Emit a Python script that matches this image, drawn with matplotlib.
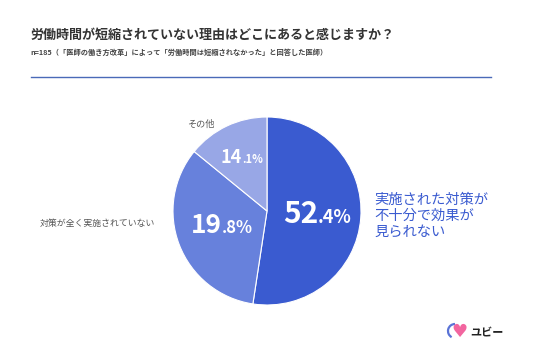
import matplotlib.pyplot as plt
from matplotlib.patches import Arc

plt.rcParams['font.family'] = ['Noto Sans CJK JP', 'DejaVu Sans']

categories = ['実施された対策が\n不十分で効果が\n見られない', '対策が全く実施されていない', 'その他']
# wedge sizes as drawn in the picture (the printed labels do not sum to 100)
shares = [52.4, 33.5, 14.1]
label_big = ['52', '19', '14']
label_small = ['.4%', '.8%', '.1%']
colors = ['#3a5bd0', '#6781dc', '#98a7e6']

W, H = 536, 357
fig = plt.figure(figsize=(W / 100, H / 100), dpi=100)
fig.patch.set_facecolor('white')


def fx(x):
    return x / W


def fy(y):
    return 1 - y / H


cx, cy, r = 267, 211, 94
ax = fig.add_axes([fx(cx - r), fy(cy + r), 2 * r / W, 2 * r / H])
ax.pie(shares, colors=colors, startangle=90, counterclock=False,
       wedgeprops=dict(edgecolor='white', linewidth=0.8))
ax.set_xlim(-1, 1)
ax.set_ylim(-1, 1)
ax.axis('off')


def d(x, y):
    return (x - cx) / r, (cy - y) / r


# percentage labels: big integer part + small decimal part
pos = [(318, 223, 21.5, 13), (222, 233, 19, 12), (242, 163, 13, 8)]
for (x, y, big, small), b, s in zip(pos, label_big, label_small):
    ax.text(*d(x, y), b, ha='right', va='baseline', color='white',
            fontsize=big, fontweight='bold')
    ax.text(*d(x, y), s, ha='left', va='baseline', color='white',
            fontsize=small, fontweight='bold')

# category labels
fig.text(fx(374), fy(216), categories[0], ha='left', va='center',
         fontsize=10.3, color='#3a5bd0', linespacing=1.15)
fig.text(fx(155), fy(223), categories[1], ha='right', va='center',
         fontsize=6.4, color='#555555')
fig.text(fx(201), fy(124), categories[2], ha='center', va='center',
         fontsize=6.6, color='#555555')

# title block
fig.text(fx(30), fy(35), '労働時間が短縮されていない理由はどこにあると感じますか？',
         ha='left', va='center', fontsize=9.4, fontweight='bold', color='#333333')
fig.text(fx(30), fy(52), 'n=185（「医師の働き方改革」によって「労働時間は短縮されなかった」と回答した医師）',
         ha='left', va='center', fontsize=5.2, fontweight='bold', color='#444444')
fig.add_artist(plt.Line2D([fx(31), fx(491)], [fy(77), fy(77)], color='#4a6ab8', linewidth=1))

# logo
fig.add_artist(Arc((fx(455), fy(331)), 14 / W, 14 / H, theta1=90, theta2=250,
                   color='#5a73d6', linewidth=1.6, transform=fig.transFigure))
fig.text(fx(459), fy(332), '♥', ha='center', va='center', fontsize=13,
         color='#f2659f', family=['DejaVu Sans'])
fig.text(fx(470), fy(332), 'ユビー', ha='left', va='center', fontsize=8,
         fontweight='bold', color='#222222')

fig.savefig('out.png', dpi=100, facecolor='white')
